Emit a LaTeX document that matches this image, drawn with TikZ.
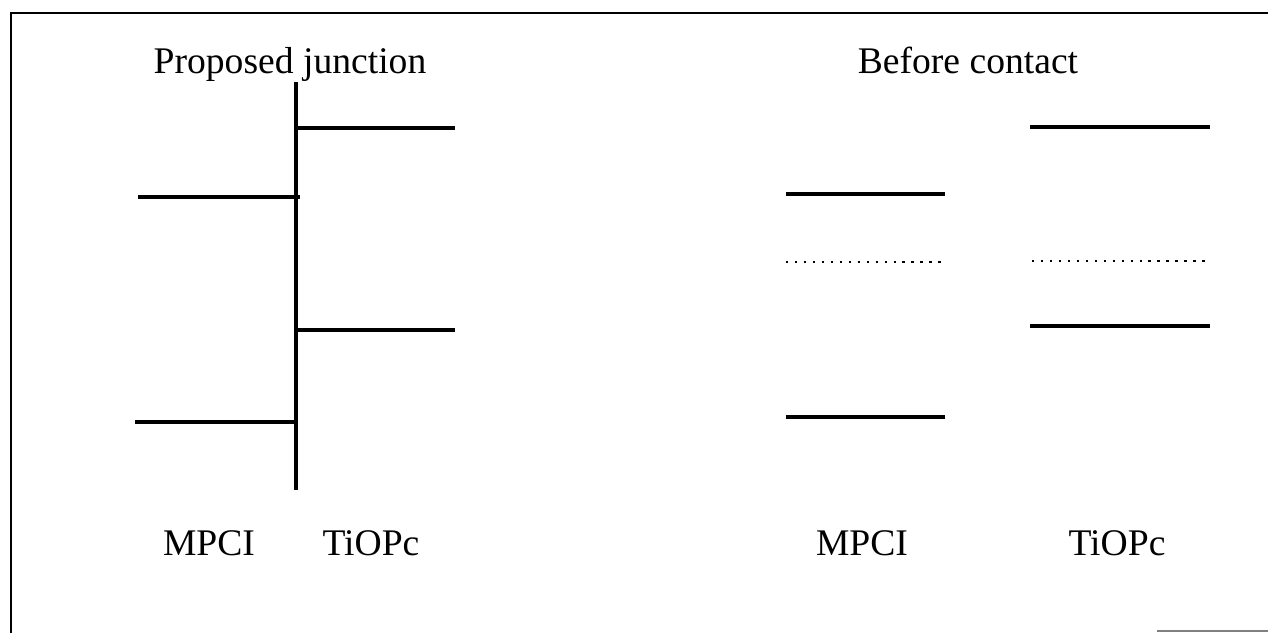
\documentclass[tikz,border=0pt]{standalone}
\usepackage{fontspec}
\setmainfont{Liberation Serif}
\tikzset{level/.style={line width=2pt}, fermi/.style={line width=1.4pt, dash pattern=on 1.4pt off 3.7pt}, lbl/.style={anchor=base, inner sep=0pt, font=\fontsize{21.4}{25}\selectfont}}

\begin{document}
\begin{tikzpicture}[x=0.02cm,y=-0.02cm]
		\useasboundingbox (0,0) rectangle (1268,633);
		\draw[line width=1.3pt](11,633) -- (11,13) -- (1268,13);
		\draw[line width=0.8pt, color=gray](1157,631) -- (1268,631);
		% proposed junction
		\node[lbl] (junc) at (290,73) {Proposed junction};
		\draw[level](296,82) -- (296,490);
		\draw[level](296,128) -- (455,128);
		\draw[level](138,197) -- (300,197);
		\draw[level](296,330) -- (455,330);
		\draw[level](135,422) -- (296,422);
		\node[lbl] (mpcia) at (209,555) {MPCI};
		\node[lbl] (tiopca) at (371,555) {TiOPc};
		% before contact
		\node[lbl] (before) at (968,73) {Before contact};
		\draw[level](786,194) -- (945,194);
		\draw[fermi](786,262) -- (945,262);
		\draw[level](786,417) -- (945,417);
		\draw[level](1030,127) -- (1210,127);
		\draw[fermi](1032,261) -- (1207,261);
		\draw[level](1030,326) -- (1210,326);
		\node[lbl] (mpcib) at (862,555) {MPCI};
		\node[lbl] (tiopcb) at (1117,555) {TiOPc};
	\end{tikzpicture}
\end{document}
